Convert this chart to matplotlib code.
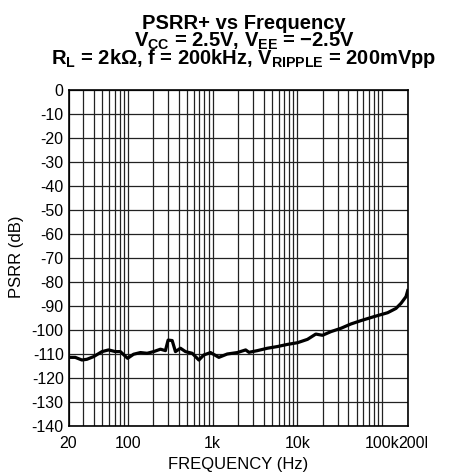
import matplotlib
matplotlib.use("Agg")
import matplotlib.pyplot as plt
from matplotlib.patches import Rectangle

plt.rcParams['font.family'] = ['Liberation Sans', 'DejaVu Sans']
plt.rcParams['mathtext.fontset'] = 'custom'
plt.rcParams['mathtext.rm'] = 'Liberation Sans:bold'
plt.rcParams['mathtext.it'] = 'Liberation Sans:bold'
plt.rcParams['mathtext.bf'] = 'Liberation Sans:bold'

# curve
freq = [20.5, 24, 28.8, 33, 39.5, 49.7, 59.4, 71.3, 81.7, 99.6, 117, 141, 169, 202,
        243, 278, 299, 334, 365, 418, 479, 575, 689, 789, 946, 1186, 1490, 1958,
        2455, 2686, 3374, 4427, 5808, 7640, 10020, 13150, 16490, 19780, 24780,
        32580, 42760, 56110, 80580, 116000, 145600, 166700, 191000, 200000]
psrr = [-111.4, -111.4, -112.5, -112.2, -111.1, -109.0, -108.3, -109.0, -109.0,
        -111.8, -110.1, -109.4, -109.7, -109.0, -108.0, -108.6, -104.2, -104.4,
        -109.0, -107.6, -109.0, -109.7, -112.5, -110.4, -109.4, -111.4, -110.0,
        -109.4, -108.3, -109.3, -108.6, -107.6, -106.9, -106.0, -105.3, -103.9,
        -101.7, -102.2, -100.7, -99.3, -97.5, -96.1, -94.4, -92.8, -91.0, -88.9,
        -86.1, -83.6]

xt = [20, 100, 1000, 10000, 100000, 200000]
xtl = ["20", "100", "1k", "10k", "100k", ""]
yt = list(range(-140, 1, 10))

W, H = 453, 476
fig = plt.figure(figsize=(W / 100, H / 100), dpi=100)
ax = fig.add_axes([68.5 / W, 1 - 426 / H, 339.2 / W, 336 / H])

minor = []
for d in [10, 100, 1000, 10000, 100000]:
    for k in range(2, 10):
        v = d * k
        if 20 < v < 200000 and v not in xt:
            minor.append(v)

ax.set_xscale('log')
ax.set_xlim(20, 200000)
ax.set_ylim(-140, 0)
ax.set_xticks(xt)
ax.set_xticklabels(xtl)
ax.set_xticks(minor, minor=True)
ax.set_xticklabels([], minor=True)
ax.set_yticks(yt)
ax.set_yticklabels([str(v) for v in yt])
ax.tick_params(which='both', length=0, labelsize=11.5)
ax.tick_params(axis='x', pad=7)
ax.tick_params(axis='y', pad=3.5)
ax.grid(True, which='both', color='#222222', lw=0.9)
ax.set_axisbelow(True)
for s in ax.spines.values():
    s.set_linewidth(1.2)

ax.plot(freq, psrr, color='black', lw=2.3, solid_joinstyle='round')

fig.text(238 / W, 1 - 465 / H, "FREQUENCY (Hz)", ha='center', va='center', fontsize=12)
fig.text(17 / W, 1 - 257 / H, "PSRR (dB)", ha='center', va='center', fontsize=12,
         rotation=90)

# last tick label, cut off by the right edge in the original
fig.text(398 / W, 1 - 436 / H, "200k", ha='left', va='top', fontsize=11.5)
fig.add_artist(Rectangle((427 / W, 1 - 456 / H), 26 / W, 26 / H, transform=fig.transFigure,
                         facecolor='white', edgecolor='none', zorder=10))

lines = ["PSRR+ vs Frequency",
         "V$_\\mathrm{CC}$ = 2.5V, V$_\\mathrm{EE}$ = \u22122.5V",
         "R$_\\mathrm{L}$ = 2k\u03a9, f = 200kHz, V$_\\mathrm{RIPPLE}$ = 200mVpp"]
baselines = [29, 46.5, 64.5]
for s, b in zip(lines, baselines):
    fig.text(244 / W, 1 - b / H, s, ha='center', va='baseline', fontsize=14.5,
             fontweight='bold')

fig.savefig("out.png", dpi=100)
